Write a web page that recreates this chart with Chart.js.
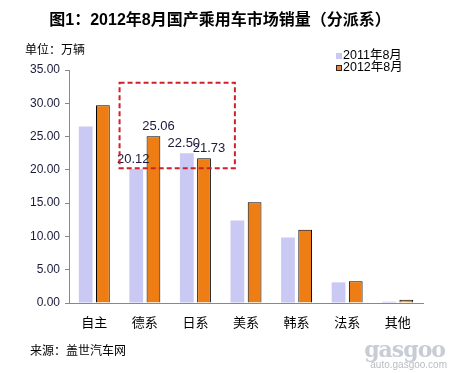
<!DOCTYPE html>
<html><head><meta charset="utf-8">
<script src="https://cdn.jsdelivr.net/npm/chart.js@4/dist/chart.umd.min.js"></script>
<style>
html,body{margin:0;padding:0;background:#fff;}
#wrap{position:relative;width:453px;height:373px;overflow:hidden;font-family:"Liberation Sans","Noto Sans CJK SC",sans-serif;}
canvas{position:absolute;left:0;top:0;}
.t{position:absolute;white-space:nowrap;}
#title{left:0;width:440px;top:6px;text-align:center;font:bold 16px "Liberation Sans","Noto Sans CJK SC",sans-serif;color:#000;}
#unit{left:25px;top:40px;font-size:12px;color:#000;}
#src{left:30px;top:341px;font-size:12px;color:#000;}
#legend{left:336px;top:49px;font-size:12.5px;color:#000;}
#legend div{height:12px;line-height:12px;}
#legend span.m{display:inline-block;width:6px;height:6px;margin-right:1px;vertical-align:middle;box-sizing:border-box;}
#wm1{right:8px;top:336px;font:bold 22px "DejaVu Serif",serif;color:#c8ccd4;letter-spacing:-1px;}
#wm2{right:6px;top:359px;font-size:10px;color:#b8bcc4;}
</style></head>
<body>
<div id="wrap">
<canvas id="c" width="453" height="373"></canvas>
<div class="t" id="title">图1：2012年8月国产乘用车市场销量（分派系）</div>
<div class="t" id="unit">单位：万辆</div>
<div class="t" id="legend"></div>
<div class="t" id="src">来源：盖世汽车网</div>
<div class="t" id="wm1">gasgoo</div>
<div class="t" id="wm2">auto.gasgoo.com</div>
</div>
<script>
const categories = ['自主','德系','日系','美系','韩系','法系','其他'];
const seriesNames = ['2011年8月','2012年8月'];
const sales2011 = [26.5, 20.12, 22.50, 12.4, 9.85, 3.1, 0.2];
const sales2012 = [29.7, 25.06, 21.73, 15.15, 11.0, 3.25, 0.5];
const yTicks = [0,5,10,15,20,25,30,35];
const labeledCategories = ['德系','日系'];
const highlightBox = {fromIndex: 0.5, toIndex: 2.78, fromValue: 20.25, toValue: 33.1};

const colors2011 = '#C9C9F4';
const colors2012 = '#F7921E';

const legendEl = document.getElementById('legend');
[[seriesNames[0], colors2011, 'none'], [seriesNames[1], '#D98A4A', '1px solid #3a2010']].forEach(([n,c,b]) => {
  const d = document.createElement('div');
  d.innerHTML = '<span class="m" style="background:'+c+';border:'+b+'"></span>'+n;
  legendEl.appendChild(d);
});

const fontFam = '"Liberation Sans","Noto Sans CJK SC",sans-serif';

const gradientPlugin = {
  id: 'grad',
  beforeDatasetsDraw(chart) {
    const ctx = chart.ctx;
    const meta = chart.getDatasetMeta(1);
    meta.data.forEach(bar => {
      const l = bar.x - bar.width / 2, r = bar.x + bar.width / 2;
      const g = ctx.createLinearGradient(l, 0, r, 0);
      g.addColorStop(0, '#EE7E14');
      g.addColorStop(0.3, '#FFA844');
      g.addColorStop(0.6, '#F9951F');
      g.addColorStop(1, '#F08418');
      bar.options.backgroundColor = g;
    });
  }
};

const labelPlugin = {
  id: 'labels',
  afterDatasetsDraw(chart) {
    const ctx = chart.ctx;
    ctx.save();
    ctx.font = '13px ' + fontFam;
    ctx.fillStyle = '#1a1a3a';
    ctx.textAlign = 'center';
    ctx.textBaseline = 'middle';
    chart.data.datasets.forEach((ds, di) => {
      const meta = chart.getDatasetMeta(di);
      const dx = di === 0 ? -3 : 5;
      meta.data.forEach((bar, i) => {
        if (labeledCategories.includes(categories[i])) {
          ctx.fillText(ds.data[i].toFixed(2), bar.x + dx, bar.y - 10);
        }
      });
    });
    const xs = chart.scales.x, ys = chart.scales.y;
    const x0 = xs.getPixelForValue(highlightBox.fromIndex);
    const x1 = xs.getPixelForValue(highlightBox.toIndex);
    const y0 = ys.getPixelForValue(highlightBox.toValue);
    const y1 = ys.getPixelForValue(highlightBox.fromValue);
    ctx.strokeStyle = '#d0202a';
    ctx.lineWidth = 2;
    ctx.setLineDash([5,3]);
    ctx.strokeRect(x0, y0, x1 - x0, y1 - y0);
    ctx.restore();
  }
};

new Chart(document.getElementById('c'), {
  type: 'bar',
  data: {
    labels: categories,
    datasets: [
      {label: seriesNames[0], data: sales2011, backgroundColor: colors2011, borderWidth: 0},
      {label: seriesNames[1], data: sales2012, backgroundColor: colors2012, borderColor: '#000', borderWidth: 1}
    ]
  },
  options: {
    responsive: false,
    animation: false,
    events: [],
    layout: {padding: {left: 0, top: 70, right: 30, bottom: 0}},
    plugins: {legend: {display: false}, tooltip: {enabled: false}},
    datasets: {bar: {categoryPercentage: 0.68, barPercentage: 0.8}},
    scales: {
      x: {
        grid: {display: false, drawTicks: false},
        border: {color: '#888', width: 1},
        ticks: {padding: 13, color: '#000', font: {size: 13, family: fontFam}},
        afterFit(s) { s.height = 70; }
      },
      y: {
        min: 0, max: 35,
        afterBuildTicks(s) { s.ticks = yTicks.map(v => ({value: v})); },
        grid: {drawOnChartArea: false, drawTicks: true, tickLength: 4, color: '#888'},
        border: {color: '#888', width: 1},
        ticks: {padding: 5, color: '#1a1a3a', font: {size: 12, family: fontFam}, callback: v => Number(v).toFixed(2)},
        afterFit(s) { s.width = 69; }
      }
    }
  },
  plugins: [gradientPlugin, labelPlugin]
});
</script>
</body></html>
